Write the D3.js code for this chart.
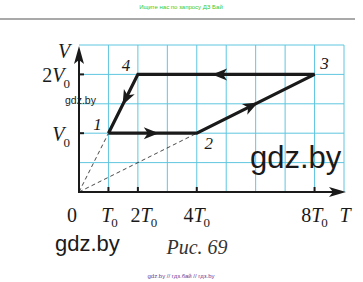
<!DOCTYPE html>
<html>
<head>
<meta charset="utf-8">
<script src="https://cdn.jsdelivr.net/npm/d3@7"></script>
<style>
  body { margin: 0; background: #fff; }
  svg { display: block; }
</style>
</head>
<body>
<div id="chart"></div>
<script>
// cycle states, T in T0 units, V in V0 units
var stateT = [1, 4, 8, 2];
var stateV = [1, 1, 2, 2];
var stateLabels = ["1", "2", "3", "4"];
var labelOffsets = [[-11, -3], [12, 16], [10, -5], [-12, -3]];
var tTicks = [1, 2, 4, 8];
var tLabels = ["T", "2T", "4T", "8T"];
var tLabelShift = [1, 6, 0, 0];
var vTicks = [1, 2];
var vLabels = ["V", "2V"];
var gridT = [1, 2, 3, 4, 5, 6, 7, 8, 9];
var gridV = [0.5, 1, 1.5, 2, 2.5];

var W = 363, H = 282;
var GRID = "#5fc6df";
var INK = "#1a1a1a";

var x = d3.scaleLinear().domain([0, 9]).range([79, 344]);
var y = d3.scaleLinear().domain([0, 2.5]).range([192, 45]);

var root = d3.select("#chart").append("svg")
  .attr("width", W)
  .attr("height", H);

// header
root.append("text")
  .attr("x", 181).attr("y", 9)
  .attr("text-anchor", "middle")
  .style("font-family", "Liberation Sans, Arial, sans-serif")
  .style("font-size", "6px")
  .style("fill", "#33cc33")
  .text("Ищите нас по запросу ДЗ Бай");
root.append("line")
  .attr("x1", 0).attr("x2", 355)
  .attr("y1", 19).attr("y2", 19)
  .style("stroke", "#555")
  .style("stroke-width", 1.2);

// grid
gridT.forEach(function(t) {
  root.append("line")
    .attr("x1", x(t)).attr("x2", x(t))
    .attr("y1", y(0)).attr("y2", y(2.5))
    .style("stroke", GRID).style("stroke-width", 1);
});
gridV.forEach(function(v) {
  root.append("line")
    .attr("x1", x(0)).attr("x2", x(9))
    .attr("y1", y(v)).attr("y2", y(v))
    .style("stroke", GRID).style("stroke-width", 1);
});

// points in pixels
var pts = stateT.map(function(t, i) { return [x(t), y(stateV[i])]; });

// dashed rays from origin through 1 and 2
[pts[0], pts[1]].forEach(function(p) {
  root.append("line")
    .attr("x1", x(0)).attr("y1", y(0))
    .attr("x2", p[0]).attr("y2", p[1])
    .style("stroke", INK)
    .style("stroke-width", 0.8)
    .style("stroke-dasharray", "4,3");
});

// axes
root.append("line")
  .attr("x1", x(0)).attr("y1", y(0))
  .attr("x2", x(9) - 6).attr("y2", y(0))
  .style("stroke", INK).style("stroke-width", 2);
root.append("line")
  .attr("x1", x(0)).attr("y1", y(0) + 1)
  .attr("x2", x(0)).attr("y2", y(2.5) + 8)
  .style("stroke", INK).style("stroke-width", 2);
root.append("path")
  .attr("d", "M" + (x(9) + 2) + "," + y(0) + " L" + (x(9) - 15) + "," + (y(0) - 5) +
    " L" + (x(9) - 11) + "," + y(0) + " L" + (x(9) - 15) + "," + (y(0) + 5) + "Z")
  .style("fill", INK);
root.append("path")
  .attr("d", "M" + x(0) + "," + (y(2.5) + 1) + " L" + (x(0) - 5) + "," + (y(2.5) + 19) +
    " L" + x(0) + "," + (y(2.5) + 15) + " L" + (x(0) + 5) + "," + (y(2.5) + 19) + "Z")
  .style("fill", INK);

// ticks
tTicks.forEach(function(t) {
  root.append("line")
    .attr("x1", x(t)).attr("x2", x(t))
    .attr("y1", y(0)).attr("y2", y(0) - 5)
    .style("stroke", INK).style("stroke-width", 2);
});
vTicks.forEach(function(v) {
  root.append("line")
    .attr("x1", x(0)).attr("x2", x(0) + 5)
    .attr("y1", y(v)).attr("y2", y(v))
    .style("stroke", INK).style("stroke-width", 2);
});

var serif = "Liberation Serif, Times New Roman, serif";

function subLabel(px, py, main, anchor, subDy) {
  var t = root.append("text")
    .attr("x", px).attr("y", py)
    .attr("text-anchor", anchor)
    .style("font-family", serif)
    .style("font-size", "20px")
    .style("fill", INK);
  var m = main.match(/^(\d*)([A-Z])$/);
  if (m[1]) t.append("tspan").text(m[1]);
  t.append("tspan").style("font-style", "italic").text(m[2]);
  t.append("tspan").attr("dy", subDy).attr("dx", -1).style("font-size", "13px").text("0");
  return t;
}

// T labels
root.append("text")
  .attr("x", 72).attr("y", 222)
  .attr("text-anchor", "middle")
  .style("font-family", serif).style("font-size", "20px").style("fill", INK)
  .text("0");
tTicks.forEach(function(t, i) {
  subLabel(x(t) + tLabelShift[i], 222, tLabels[i], "middle", 5);
});
root.append("text")
  .attr("x", 345).attr("y", 222)
  .attr("text-anchor", "middle")
  .style("font-family", serif).style("font-size", "20px")
  .style("font-style", "italic").style("fill", INK)
  .text("T");

// V labels
vTicks.forEach(function(v, i) {
  subLabel(70, y(v) + 8, vLabels[i], "end", 6);
});
root.append("text")
  .attr("x", 64).attr("y", 58)
  .attr("text-anchor", "middle")
  .style("font-family", serif).style("font-size", "20px")
  .style("font-style", "italic").style("fill", INK)
  .text("V");

// cycle 1-2-3-4-1
root.append("path")
  .attr("d", d3.line()(pts.concat([pts[0]])))
  .style("fill", "none")
  .style("stroke", INK)
  .style("stroke-width", 3.2)
  .style("stroke-linejoin", "miter");

// arrowheads along each leg
var arrowPos = [0.57, 0.52, 0.58, 0.52];
pts.forEach(function(p, i) {
  var e = pts[(i + 1) % pts.length];
  var f = arrowPos[i];
  var tx = p[0] + (e[0] - p[0]) * f, ty = p[1] + (e[1] - p[1]) * f;
  var ang = Math.atan2(e[1] - p[1], e[0] - p[0]) * 180 / Math.PI;
  root.append("path")
    .attr("d", "M0,0 L-15,-6 L-11,0 L-15,6Z")
    .attr("transform", "translate(" + tx + "," + ty + ") rotate(" + ang + ")")
    .style("fill", INK);
});

// state numbers
pts.forEach(function(p, i) {
  root.append("text")
    .attr("x", p[0] + labelOffsets[i][0]).attr("y", p[1] + labelOffsets[i][1])
    .attr("text-anchor", "middle")
    .style("font-family", serif)
    .style("font-size", "17px")
    .style("font-style", "italic")
    .style("fill", INK)
    .text(stateLabels[i]);
});

// caption
root.append("text")
  .attr("x", 197).attr("y", 254)
  .attr("text-anchor", "middle")
  .style("font-family", serif)
  .style("font-size", "20px")
  .style("font-style", "italic")
  .style("fill", "#333")
  .text("Рис. 69");

// watermarks
var sans = "Liberation Sans, Arial, sans-serif";
root.append("text")
  .attr("x", 65).attr("y", 104)
  .style("font-family", sans).style("font-size", "10.5px").style("fill", INK)
  .text("gdz.by");
root.append("text")
  .attr("x", 250).attr("y", 168)
  .style("font-family", sans).style("font-size", "31px").style("fill", INK)
  .text("gdz.by");
root.append("text")
  .attr("x", 55).attr("y", 251)
  .style("font-family", sans).style("font-size", "22px").style("fill", INK)
  .text("gdz.by");
root.append("text")
  .attr("x", 181).attr("y", 278)
  .attr("text-anchor", "middle")
  .style("font-family", sans).style("font-size", "6px").style("fill", "#6a3d9a")
  .text("gdz.by // гдз.бай // гдз.by");
</script>
</body>
</html>
